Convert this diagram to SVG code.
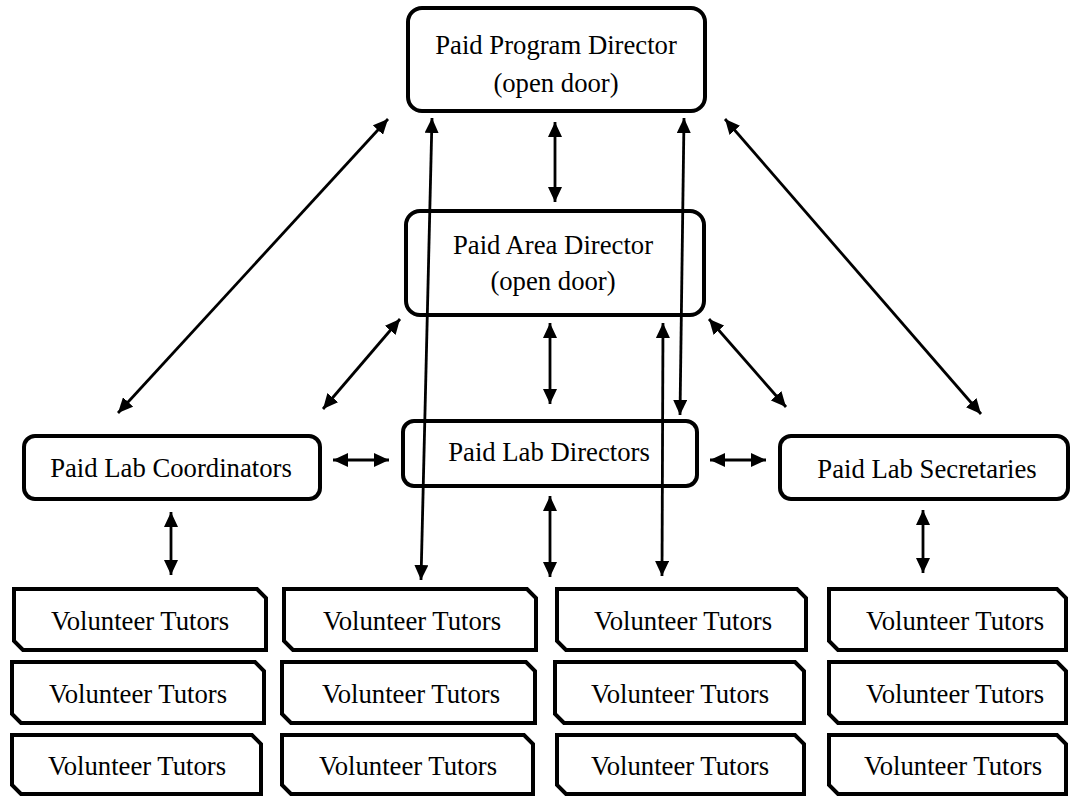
<svg xmlns="http://www.w3.org/2000/svg" width="1073" height="796" viewBox="0 0 1073 796">
<style>
.box{fill:#fff;stroke:#000;stroke-width:4}
.vol{fill:#fff;stroke:#000;stroke-width:4;stroke-linejoin:miter}
.t{font-family:"Liberation Serif","Times New Roman",serif;font-size:26.7px;fill:#000;text-anchor:middle}
.c{stroke:#000;stroke-width:2.8;fill:none;marker-start:url(#ah);marker-end:url(#ah)}
</style>
<defs>
<marker id="ah" markerUnits="userSpaceOnUse" markerWidth="16" markerHeight="14" refX="15" refY="7" orient="auto-start-reverse" viewBox="0 0 16 14">
<path d="M0,0 L15,7 L0,14 z" fill="#000"/>
</marker>
</defs>
<g id="program-director">
<rect class="box" x="408" y="8" width="297" height="103" rx="14"/>
<text class="t" x="556" y="54">Paid Program Director</text>
<text class="t" x="556" y="92">(open door)</text>
</g>
<g id="area-director">
<rect class="box" x="406" y="211" width="298" height="104" rx="14"/>
<text class="t" x="553" y="254">Paid Area Director</text>
<text class="t" x="553" y="290">(open door)</text>
</g>
<g id="lab-coordinators">
<rect class="box" x="24" y="436" width="296" height="63" rx="11"/>
<text class="t" x="171" y="477">Paid Lab Coordinators</text>
</g>
<g id="lab-directors">
<rect class="box" x="403" y="421" width="294" height="65" rx="11"/>
<text class="t" x="549" y="461">Paid Lab Directors</text>
</g>
<g id="lab-secretaries">
<rect class="box" x="780" y="436" width="288" height="63" rx="11"/>
<text class="t" x="927" y="478">Paid Lab Secretaries</text>
</g>
<g id="vol-1-1"><polygon class="vol" points="14,589 257,589 266,598 266,650 23,650 14,641"/><text class="t" x="140" y="630">Volunteer Tutors</text></g>
<g id="vol-1-2"><polygon class="vol" points="12,662 255,662 264,671 264,723 21,723 12,714"/><text class="t" x="138" y="703">Volunteer Tutors</text></g>
<g id="vol-1-3"><polygon class="vol" points="12,735 252,735 261,744 261,794 21,794 12,785"/><text class="t" x="137" y="775">Volunteer Tutors</text></g>
<g id="vol-2-1"><polygon class="vol" points="284,589 527,589 536,598 536,650 293,650 284,641"/><text class="t" x="412" y="630">Volunteer Tutors</text></g>
<g id="vol-2-2"><polygon class="vol" points="282,662 526,662 535,671 535,723 291,723 282,714"/><text class="t" x="411" y="703">Volunteer Tutors</text></g>
<g id="vol-2-3"><polygon class="vol" points="282,735 524,735 533,744 533,794 291,794 282,785"/><text class="t" x="408" y="775">Volunteer Tutors</text></g>
<g id="vol-3-1"><polygon class="vol" points="557,589 797,589 806,598 806,650 566,650 557,641"/><text class="t" x="683" y="630">Volunteer Tutors</text></g>
<g id="vol-3-2"><polygon class="vol" points="555,662 795,662 804,671 804,723 564,723 555,714"/><text class="t" x="680" y="703">Volunteer Tutors</text></g>
<g id="vol-3-3"><polygon class="vol" points="557,735 795,735 804,744 804,794 566,794 557,785"/><text class="t" x="680" y="775">Volunteer Tutors</text></g>
<g id="vol-4-1"><polygon class="vol" points="829,589 1057,589 1066,598 1066,650 838,650 829,641"/><text class="t" x="955" y="630">Volunteer Tutors</text></g>
<g id="vol-4-2"><polygon class="vol" points="829,662 1057,662 1066,671 1066,723 838,723 829,714"/><text class="t" x="955" y="703">Volunteer Tutors</text></g>
<g id="vol-4-3"><polygon class="vol" points="829,735 1057,735 1066,744 1066,794 838,794 829,785"/><text class="t" x="953" y="775">Volunteer Tutors</text></g>
<g id="connectors">
<line class="c" x1="388" y1="119" x2="118" y2="413"/>
<line class="c" x1="725" y1="119" x2="981" y2="414"/>
<line class="c" x1="555" y1="122" x2="555" y2="202"/>
<line class="c" x1="432" y1="118" x2="421" y2="580"/>
<line class="c" x1="684" y1="118" x2="680" y2="415"/>
<line class="c" x1="663" y1="323" x2="662" y2="576"/>
<line class="c" x1="400" y1="319" x2="323" y2="409"/>
<line class="c" x1="550" y1="323" x2="550" y2="404"/>
<line class="c" x1="709" y1="319" x2="786" y2="407"/>
<line class="c" x1="333" y1="460" x2="389" y2="460"/>
<line class="c" x1="710" y1="460" x2="766" y2="460"/>
<line class="c" x1="171" y1="512" x2="171" y2="575"/>
<line class="c" x1="550" y1="496" x2="550" y2="577"/>
<line class="c" x1="923" y1="510" x2="923" y2="573"/>
</g>
</svg>
